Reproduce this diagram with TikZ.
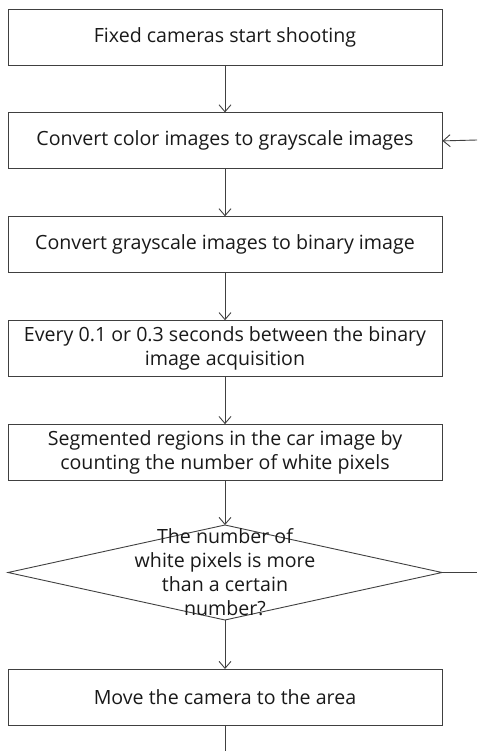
\documentclass[tikz,border=0pt]{standalone}
\usepackage{fontspec}
\setmainfont{Open Sans}
\usetikzlibrary{arrows.meta,positioning}
\tikzset{
  stepbox/.style={rectangle, draw=black!75, line width=0.9pt, align=center,
              minimum width=434pt, minimum height=56pt, inner sep=0pt,
              text=black!90, font=\fontsize{19.6}{24}\selectfont},
  decision/.style={draw=black!75, line width=0.9pt},
  question/.style={align=center, inner sep=0pt, text=black!90,
              font=\fontsize{19.6}{24}\selectfont},
  flow/.style={-{Straight Barb[length=7pt,width=12pt]}, draw=black!75, line width=0.9pt},
  plain/.style={draw=black!75, line width=0.9pt},
}

\begin{document}
\begin{tikzpicture}
  \useasboundingbox (0,0) rectangle (477pt,-751pt);
  \node[stepbox] (shoot) at (225pt,-37pt) {Fixed cameras start shooting};
  \node[stepbox, below=47pt of shoot] (gray) {Convert color images to grayscale images};
  \node[stepbox, below=47pt of gray] (binary) {Convert grayscale images to binary image};
  \node[stepbox, below=47pt of binary] (acquire) {Every 0.1 or 0.3 seconds between the binary\\image acquisition};
  \node[stepbox, below=47pt of acquire] (segment) {Segmented regions in the car image by\\counting the number of white pixels};
  % decision diamond, text runs over its edges
  \coordinate (dtop) at (225pt,-525pt);
  \coordinate (dright) at (442pt,-572.5pt);
  \coordinate (dbot) at (225pt,-620pt);
  \coordinate (dleft) at (8pt,-572.5pt);
  \draw[decision] (dtop) -- (dright) -- (dbot) -- (dleft) -- cycle;
  \node[question] (count) at (225pt,-572pt) {The number of\\white pixels is more\\than a certain\\number?};
  \node[stepbox, below=49pt of dbot] (move) {Move the camera to the area};
  \coordinate (loopout) at (477pt,-572.5pt);
  \coordinate (loopin) at (477pt,-140pt);
  \coordinate (exit) at (225pt,-751pt);

  \draw[flow] (shoot) -- (gray);
  \draw[flow] (gray) -- (binary);
  \draw[flow] (binary) -- (acquire);
  \draw[flow] (acquire) -- (segment);
  \draw[flow] (segment) -- (dtop);
  \draw[flow] (dbot) -- (move);
  \draw[plain] (move) -- (exit);
  \draw[plain] (dright) -- (loopout);
  \draw[flow] (loopin) -- (gray.east);
\end{tikzpicture}
\end{document}
